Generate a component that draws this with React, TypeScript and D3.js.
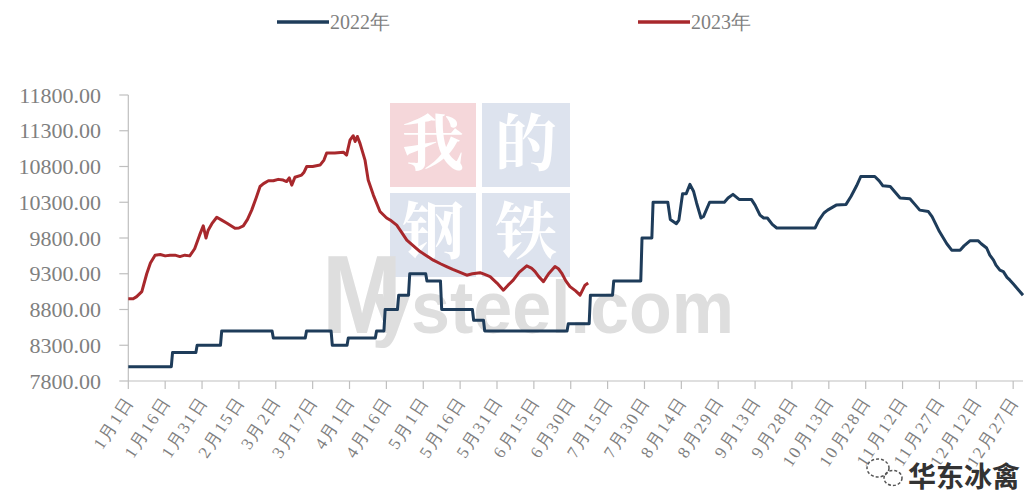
import { useMemo } from 'react'
import * as d3 from 'd3'

// day index from Jan 1, price
const days2022 = [0, 17.5, 18, 27.5, 28, 37.5, 38, 58.5, 59, 72, 72.5, 82.5, 83, 89, 89.5, 100.5, 101, 104, 104.5, 109.5, 110, 114, 114.5, 121, 121.5, 127, 127.5, 140, 140.5, 144.5, 145, 178.5, 179, 187.5, 188, 197, 197.5, 208.5, 209, 213, 213.5, 219.5, 220.5, 223, 224, 225.5, 227, 228.5, 230, 231.2, 233, 234, 236.5, 242.5, 244, 246, 248.5, 253.5, 255, 257, 258.5, 260, 262, 263.8, 279.4, 281, 283, 284.5, 288, 292, 294, 296.3, 298, 303.7, 305.5, 307, 310, 312, 314, 318, 320, 322, 325.5, 327, 330, 333, 335, 338.4, 340, 342.4, 345.8, 347, 349.2, 350.5, 352, 353, 354.6, 356, 357.5, 358.7, 360, 362, 364]
const price2022 = [8000, 8000, 8200, 8200, 8300, 8300, 8500, 8500, 8400, 8400, 8500, 8500, 8300, 8300, 8400, 8400, 8500, 8500, 8800, 8800, 9000, 9000, 9300, 9300, 9200, 9200, 8800, 8800, 8650, 8650, 8500, 8500, 8600, 8600, 9000, 9000, 9200, 9200, 9800, 9800, 10300, 10300, 10060, 10000, 10050, 10420, 10420, 10550, 10450, 10290, 10080, 10100, 10300, 10300, 10360, 10410, 10340, 10340, 10260, 10120, 10080, 10080, 9990, 9940, 9940, 10050, 10150, 10190, 10260, 10270, 10380, 10530, 10660, 10660, 10600, 10530, 10520, 10440, 10360, 10350, 10270, 10190, 10170, 10100, 9890, 9720, 9630, 9630, 9690, 9760, 9760, 9720, 9660, 9560, 9490, 9420, 9350, 9330, 9250, 9210, 9160, 9080, 9000]

const days2023 = [0, 2, 3.4, 5.5, 7.5, 9, 10.9, 13, 15, 17, 19, 21, 23, 25, 27, 29, 30.5, 31.6, 32.5, 34, 36, 38, 40, 43.4, 45, 46.8, 48.5, 50.2, 52, 53.6, 55, 57, 59, 61, 63, 64.4, 65.5, 66.5, 67.8, 70.5, 71.5, 72.6, 75, 78, 79.6, 80.7, 84, 87.5, 88.8, 90.2, 91.5, 92.3, 93.2, 94.3, 96.3, 97.6, 99.7, 102.4, 105.1, 107, 109.2, 111, 113.3, 116, 118.7, 121, 124.1, 127, 129.5, 132, 135, 137.7, 140, 143.1, 145, 147.2, 150, 152.6, 154.5, 156.6, 159, 162.1, 164, 165.5, 167, 168.9, 171, 173.6, 175, 176.3, 178, 179.7, 182, 183.8, 185.8, 187.1]
const price2023 = [8950, 8950, 8980, 9050, 9300, 9450, 9560, 9570, 9550, 9560, 9560, 9540, 9560, 9550, 9650, 9840, 9970, 9800, 9910, 10000, 10090, 10050, 10010, 9935, 9940, 9970, 10060, 10190, 10360, 10520, 10560, 10600, 10600, 10620, 10610, 10590, 10640, 10540, 10650, 10680, 10720, 10800, 10800, 10820, 10890, 10990, 10990, 11000, 10960, 11170, 11230, 11150, 11220, 11120, 10890, 10610, 10400, 10170, 10080, 10040, 9980, 9890, 9770, 9690, 9610, 9560, 9490, 9440, 9400, 9360, 9320, 9280, 9300, 9315, 9290, 9260, 9170, 9070, 9140, 9210, 9320, 9410, 9380, 9330, 9260, 9190, 9300, 9400, 9370, 9310, 9200, 9120, 9060, 9000, 9140, 9170]

const xLabels = ['1月1日', '1月16日', '1月31日', '2月15日', '3月2日', '3月17日', '4月1日', '4月16日', '5月1日', '5月16日', '5月31日', '6月15日', '6月30日', '7月15日', '7月30日', '8月14日', '8月29日', '9月13日', '9月28日', '10月13日', '10月28日', '11月12日', '11月27日', '12月12日', '12月27日']
const labelStep = 15

const seriesNames = ['2022年', '2023年']
const BLUE = '#1e3c5a'
const RED = '#a8282c'
const GRID = '#bfbfbf'
const TEXT = '#7f7f7f'

export default function App() {
  const W = 1024
  const H = 496
  const x = d3.scaleLinear().domain([0, 364]).range([128.3, 1023])
  const y = d3.scaleLinear().domain([7800, 11800]).range([381, 95])
  const yTicks = d3.range(7800, 11801, 500)

  const line = d3.line<[number, number]>().x(d => x(d[0])).y(d => y(d[1]))
  const path2022 = useMemo(() => line(days2022.map((d, i) => [d, price2022[i]])) ?? '', [])
  const path2023 = useMemo(() => line(days2023.map((d, i) => [d, price2023[i]])) ?? '', [])

  return (
    <svg width={W} height={H} style={{ position: 'absolute', left: 0, top: 0, background: '#fff' }}>
      {/* watermark */}
      <g>
        <rect x={390} y={103} width={86} height={84} fill="#f5d7da" />
        <rect x={482} y={103} width={88} height={84} fill="#dde3ee" />
        <rect x={390} y={193} width={86} height={84} fill="#dde3ee" />
        <rect x={482} y={193} width={88} height={84} fill="#dde3ee" />
        <g fill="#fff" fontFamily="'Noto Serif CJK SC', 'Noto Sans CJK SC', serif" fontWeight={700} fontSize={62} textAnchor="middle">
          <text x={433} y={166}>我</text>
          <text x={526} y={166}>的</text>
          <text x={433} y={254}>钢</text>
          <text x={526} y={254}>铁</text>
        </g>
        <text x={322} y={333} fill="#dedede" fontFamily="'Liberation Sans', sans-serif" fontWeight={700} fontSize={74}>
          <tspan fontSize={112} textLength={80} lengthAdjust="spacingAndGlyphs">M</tspan>
          <tspan x={372} textLength={362} lengthAdjust="spacingAndGlyphs">ysteel.com</tspan>
        </text>
      </g>

      {/* axes */}
      <line x1={x(0)} x2={x(0)} y1={y(11800)} y2={y(7800)} stroke={GRID} strokeWidth={1.2} />
      <line x1={x(0)} x2={1023} y1={y(7800)} y2={y(7800)} stroke={GRID} strokeWidth={1.2} />
      {yTicks.map(t => (
        <g key={t}>
          <line x1={x(0) - 9} x2={x(0)} y1={y(t)} y2={y(t)} stroke={GRID} strokeWidth={1.2} />
          <text x={101} y={y(t)} dy="0.35em" textAnchor="end" fill={TEXT} fontFamily="'Liberation Serif', serif" fontSize={22}>
            {d3.format('.2f')(t)}
          </text>
        </g>
      ))}
      {xLabels.map((lab, i) => {
        const tx = x(i * labelStep)
        return (
          <g key={lab}>
            <line x1={tx} x2={tx} y1={y(7800)} y2={y(7800) + 8} stroke={GRID} strokeWidth={1.2} />
            <text
              transform={`translate(${tx + 6},${y(7800) + 20}) rotate(-57)`}
              textAnchor="end"
              fill={TEXT}
              fontFamily="'Liberation Serif', serif"
              fontSize={17}
              letterSpacing={2}
            >
              {lab}
            </text>
          </g>
        )
      })}

      {/* series */}
      <path d={path2022} fill="none" stroke={BLUE} strokeWidth={3} strokeLinejoin="round" />
      <path d={path2023} fill="none" stroke={RED} strokeWidth={3} strokeLinejoin="round" />

      {/* legend */}
      {seriesNames.map((name, i) => {
        const lx = i === 0 ? 277 : 638
        return (
          <g key={name}>
            <line x1={lx} x2={lx + 52} y1={22} y2={22} stroke={i === 0 ? BLUE : RED} strokeWidth={3.5} />
            <text x={lx + 53} y={22} dy="0.35em" fill={TEXT} fontFamily="'Liberation Serif', serif" fontSize={20}>
              {name}
            </text>
          </g>
        )
      })}

      {/* wechat mark */}
      <g fill="none" stroke="#555" strokeWidth={1.5} strokeDasharray="3 2">
        <ellipse cx={878} cy={468} rx={11} ry={9} />
        <ellipse cx={893} cy={478} rx={9} ry={7.5} />
      </g>
      <text x={1020} y={487} textAnchor="end" fill="#333" stroke="#fff" strokeWidth={3} paintOrder="stroke"
        fontFamily="'Noto Sans CJK SC', sans-serif" fontWeight={700} fontSize={28}>
        华东冰禽
      </text>
    </svg>
  )
}
